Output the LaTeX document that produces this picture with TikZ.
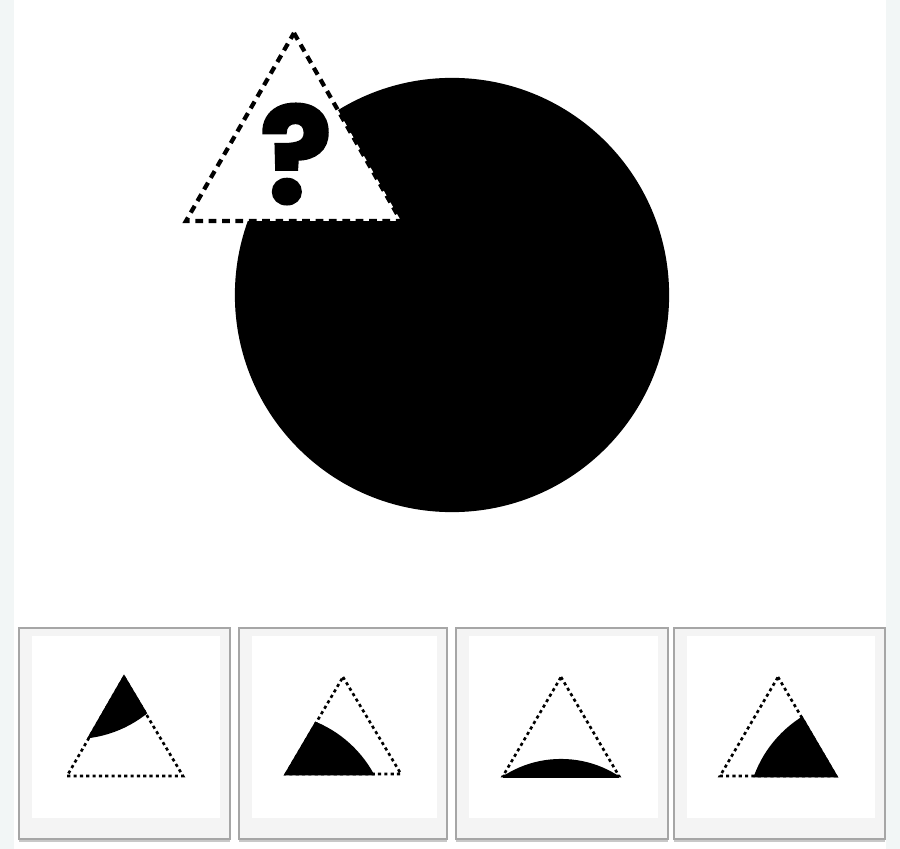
\documentclass[tikz,border=0pt]{standalone}
\usepackage{fontspec}
\usetikzlibrary{calc}
\newfontfamily\qfont{Poppins}[BoldFeatures={FakeBold=2.2}]
\definecolor{bgstrip}{HTML}{F2F6F6}
\definecolor{boxfill}{HTML}{F4F4F4}
\definecolor{boxline}{HTML}{A6A6A6}
\definecolor{shadowc}{HTML}{C8C8C8}
\tikzset{
  bigdash/.style={line width=1.2pt, dash pattern=on 2.2pt off 1.6pt},
  smalldot/.style={line width=0.75pt, dash pattern=on 0.9pt off 0.9pt},
  solidedge/.style={line width=0.75pt},
  optbox/.style={draw=boxline, line width=0.6pt, fill=boxfill},
  innerw/.style={fill=white, draw=none}
}
\begin{document}
\begin{tikzpicture}[x=0.01cm,y=-0.01cm]
% background
\fill[bgstrip] (0,0) rectangle (900,849);
\fill[white] (14,0) rectangle (886,849);
\useasboundingbox (0,0) rectangle (900,849);
% big circle
\fill[black] (452,295) circle[radius=2.17cm];
% top triangle
\coordinate (TA) at (294,33);
\coordinate (TL) at (186,221);
\coordinate (TR) at (401,221);
\fill[white] (TA) -- (TR) -- (TL) -- cycle;
\draw[bigdash] (TA) -- (TR) -- (TL) -- cycle;
\node[font=\qfont\bfseries\fontsize{38}{38}\selectfont, inner sep=0pt] (q) at (296,154) {?};
% option boxes
\foreach \x/\w [count=\i] in {19/211, 239/208, 456/212, 674/211}{
  \fill[shadowc] (\x,838) rectangle (\x+\w,842);
  \draw[optbox] (\x,628) rectangle (\x+\w,839);
  \fill[innerw] (\x+13,636) rectangle (\x+\w-10,818);
}
% option 1
\coordinate (A1) at (124,677);
\coordinate (L1) at (67,776);
\coordinate (R1) at (183,776);
\draw[smalldot] (A1) -- (R1) -- (L1) -- cycle;
\begin{scope}
  \clip (A1) -- (R1) -- (L1) -- cycle;
  \fill[black] (74,622) circle[radius=1.17cm];
\end{scope}
\begin{scope}
  \clip (74,622) circle[radius=1.17cm];
  \draw[solidedge] (A1) -- (R1) -- (L1) -- cycle;
\end{scope}
% option 2
\coordinate (A2) at (343,677);
\coordinate (L2) at (286,774);
\coordinate (R2) at (401,774);
\draw[smalldot] (A2) -- (R2) -- (L2) -- cycle;
\begin{scope}
  \clip (A2) -- (R2) -- (L2) -- cycle;
  \fill[black] (271,830) circle[radius=1.17cm];
\end{scope}
\begin{scope}
  \clip (271,830) circle[radius=1.17cm];
  \draw[solidedge] (A2) -- (R2) -- (L2) -- cycle;
\end{scope}
% option 3
\coordinate (A3) at (561,677);
\coordinate (L3) at (503,776);
\coordinate (R3) at (619,776);
\draw[smalldot] (A3) -- (R3) -- (L3) -- cycle;
\begin{scope}
  \clip (A3) -- (R3) -- (L3) -- cycle;
  \fill[black] (561,865) circle[radius=1.06cm];
\end{scope}
\fill[black] ($(L3)+(0,-1.5)$) rectangle ($(R3)+(0,1.5)$);
% option 4
\coordinate (A4) at (778,677);
\coordinate (L4) at (720,776);
\coordinate (R4) at (836,776);
\draw[smalldot] (A4) -- (R4) -- (L4) -- cycle;
\begin{scope}
  \clip (A4) -- (R4) -- (L4) -- cycle;
  \fill[black] (864,816) circle[radius=1.17cm];
\end{scope}
\begin{scope}
  \clip (864,816) circle[radius=1.17cm];
  \draw[solidedge] (A4) -- (R4) -- (L4) -- cycle;
\end{scope}
\end{tikzpicture}
\end{document}
